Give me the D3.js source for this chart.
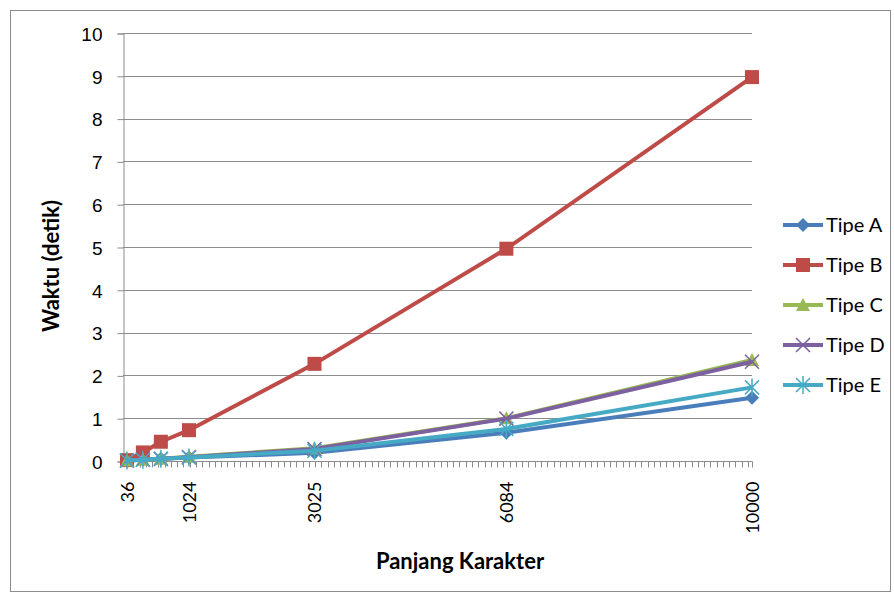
<!DOCTYPE html>
<html>
<head>
<meta charset="utf-8">
<script src="https://cdn.jsdelivr.net/npm/d3@7"></script>
<style>
  html, body { margin: 0; padding: 0; background: #fff; }
  svg { display: block; font-family: Lato, "Open Sans", "Liberation Sans", sans-serif; }
</style>
</head>
<body>
<svg id="chart" width="894" height="595"></svg>
<script>
// Character lengths tested (x values)
const panjang = [36, 289, 576, 1024, 3025, 6084, 10000];
// Labelled x positions
const xLabels = [36, 1024, 3025, 6084, 10000];
// Running time (seconds) per type
const tipeA = [0.01, 0.03, 0.05, 0.08, 0.19, 0.66, 1.48];
const tipeB = [0.02, 0.20, 0.45, 0.72, 2.27, 4.96, 8.97];
const tipeC = [0.01, 0.03, 0.05, 0.10, 0.30, 1.00, 2.36];
const tipeD = [0.01, 0.03, 0.05, 0.09, 0.28, 0.99, 2.32];
const tipeE = [0.01, 0.03, 0.05, 0.08, 0.24, 0.75, 1.72];
const yTicks = [0, 1, 2, 3, 4, 5, 6, 7, 8, 9, 10];

const series = [
  { name: "Tipe A", values: tipeA, color: "#4a7ebb", marker: "diamond" },
  { name: "Tipe B", values: tipeB, color: "#be4b48", marker: "square" },
  { name: "Tipe C", values: tipeC, color: "#98b954", marker: "triangle" },
  { name: "Tipe D", values: tipeD, color: "#7d60a0", marker: "x" },
  { name: "Tipe E", values: tipeE, color: "#46aac5", marker: "star" }
];

const svg = d3.select("#chart");
const plotL = 123, plotR = 752, plotT = 33, plotB = 461;

const x = d3.scaleLinear().domain([36, 10000]).range([plotL + 4, plotR]);
const y = d3.scaleLinear().domain([0, 10]).range([plotB, plotT]);

// Outer chart border
svg.append("rect")
  .attr("x", 10.5).attr("y", 10.5).attr("width", 880).attr("height", 581)
  .attr("fill", "none").attr("stroke", "#8c8c8c").attr("stroke-width", 1);

// Horizontal gridlines
svg.append("g").selectAll("line").data(yTicks.filter(d => d > 0)).join("line")
  .attr("x1", plotL).attr("x2", plotR)
  .attr("y1", d => Math.round(y(d)) + 0.5).attr("y2", d => Math.round(y(d)) + 0.5)
  .attr("stroke", "#8c8c8c").attr("stroke-width", 1);

// Y axis
const yAxis = d3.axisLeft(y).tickValues(yTicks).tickSize(6).tickPadding(15);
const gy = svg.append("g").attr("transform", `translate(${plotL + 0.5},0.5)`).call(yAxis);
gy.select(".domain").attr("stroke", "#8c8c8c");
gy.selectAll(".tick line").attr("stroke", "#8c8c8c");
gy.selectAll(".tick text").attr("font-size", 19).attr("font-family", null)
  .attr("fill", "#000").attr("dy", "0.36em");

// X axis: minor ticks every 100 units, labels at selected lengths
const minor = d3.range(36, 10000, 100).concat([10000]);
const gx = svg.append("g").attr("transform", `translate(0.5,${plotB + 0.5})`);
gx.append("line").attr("x1", plotL).attr("x2", plotR).attr("stroke", "#8c8c8c");
gx.selectAll("line.minor").data(minor).join("line").attr("class", "minor")
  .attr("x1", d => Math.round(x(d))).attr("x2", d => Math.round(x(d)))
  .attr("y1", 0).attr("y2", 6).attr("stroke", "#8c8c8c");
gx.selectAll("text").data(xLabels).join("text")
  .attr("transform", d => `translate(${x(d)},20) rotate(-90)`)
  .attr("text-anchor", "end").attr("dy", "0.36em")
  .attr("font-size", 18).attr("fill", "#000")
  .text(d => d);

// Axis titles
svg.append("text").attr("x", 460).attr("y", 569).attr("text-anchor", "middle")
  .attr("font-size", 22).attr("font-weight", "bold").text("Panjang Karakter");
svg.append("text").attr("transform", "translate(59,266) rotate(-90)")
  .attr("text-anchor", "middle").attr("font-size", 22).attr("font-weight", "bold")
  .text("Waktu (detik)");

// Marker shapes
function drawMarker(g, type, color) {
  if (type === "diamond") {
    g.append("path").attr("d", "M0,-7L7,0L0,7L-7,0Z").attr("fill", color);
  } else if (type === "square") {
    g.append("rect").attr("x", -7).attr("y", -7).attr("width", 14).attr("height", 14).attr("fill", color);
  } else if (type === "triangle") {
    g.append("path").attr("d", "M0,-7L7,6L-7,6Z").attr("fill", color);
  } else if (type === "x") {
    g.append("path").attr("d", "M-7,-7L7,7M-7,7L7,-7").attr("stroke", color).attr("stroke-width", 1.5);
  } else if (type === "star") {
    g.append("path").attr("d", "M-7,-7L7,7M-7,7L7,-7M0,-9L0,9").attr("stroke", color).attr("stroke-width", 1.5);
  }
}

const line = d3.line().x(d => x(d[0])).y(d => y(d[1]));

series.forEach(s => {
  const pts = panjang.map((p, i) => [p, s.values[i]]);
  const g = svg.append("g");
  g.append("path").datum(pts).attr("d", line)
    .attr("fill", "none").attr("stroke", s.color).attr("stroke-width", 4)
    .attr("stroke-linejoin", "round");
  g.selectAll("g.m").data(pts).join("g").attr("class", "m")
    .attr("transform", d => `translate(${x(d[0])},${y(d[1])})`)
    .each(function () { drawMarker(d3.select(this), s.marker, s.color); });
});

// Legend
const legend = svg.append("g");
series.forEach((s, i) => {
  const ly = 225 + i * 40;
  const g = legend.append("g").attr("transform", `translate(0,${ly})`);
  g.append("line").attr("x1", 783).attr("x2", 823).attr("y1", 0).attr("y2", 0)
    .attr("stroke", s.color).attr("stroke-width", 4);
  const m = g.append("g").attr("transform", "translate(803,0)");
  drawMarker(m, s.marker, s.color);
  g.append("text").attr("x", 826).attr("y", 0).attr("dy", "0.36em")
    .attr("font-size", 20).attr("fill", "#000").text(s.name);
});
</script>
</body>
</html>
